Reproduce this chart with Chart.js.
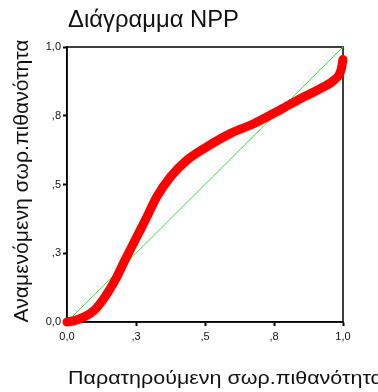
<!DOCTYPE html>
<html>
<head>
<meta charset="utf-8">
<script src="https://cdn.jsdelivr.net/npm/chart.js@4"></script>
<style>
  html, body { margin: 0; padding: 0; background: #fff; }
  #wrap { width: 378px; height: 392px; }
</style>
</head>
<body>
<div id="wrap"><canvas id="myChart"></canvas></div>
<script>
const chartTitle = 'Διάγραμμα NPP';
const xTitle = 'Παρατηρούμενη σωρ.πιθανότητα';
const yTitle = 'Αναμενόμενη σωρ.πιθανότητα';

// observed vs expected cumulative probability
const observed = [0, 0.03, 0.065, 0.10, 0.138, 0.175, 0.21, 0.247, 0.284, 0.326, 0.375, 0.435, 0.508, 0.593, 0.678, 0.775, 0.847, 0.92, 0.968, 0.993, 1.0];
const expected = [0, 0.006, 0.02, 0.044, 0.092, 0.153, 0.225, 0.298, 0.371, 0.456, 0.528, 0.589, 0.638, 0.686, 0.722, 0.773, 0.813, 0.85, 0.88, 0.916, 0.955];

const tickValues = [0, 0.25, 0.5, 0.75, 1];
const tickLabels = ['0,0', ',3', ',5', ',8', '1,0'];

const FONT = '"Liberation Sans", Arial, sans-serif';

function tickText(value) {
  const i = tickValues.findIndex(v => Math.abs(v - value) < 1e-6);
  return i >= 0 ? tickLabels[i] : '';
}

// draw text squeezed/stretched along its run to a given length
function drawFitted(ctx, text, size, length, align) {
  ctx.font = size + 'px ' + FONT;
  const w = ctx.measureText(text).width;
  ctx.textAlign = align;
  ctx.scale(length / w, 1);
  ctx.fillText(text, 0, 0);
}

const frameAndTitles = {
  id: 'frameAndTitles',
  beforeDatasetsDraw(chart) {
    const { ctx, chartArea: a } = chart;
    ctx.save();
    ctx.strokeStyle = '#000';
    ctx.lineWidth = 1.5;
    ctx.strokeRect(a.left, a.top, a.right - a.left, a.bottom - a.top);
    ctx.restore();
  },
  afterDraw(chart) {
    const { ctx, chartArea: a } = chart;
    ctx.fillStyle = '#111';
    ctx.textBaseline = 'alphabetic';

    ctx.save();
    ctx.translate(a.left + 1, 27);
    drawFitted(ctx, chartTitle, 23, 171, 'left');
    ctx.restore();

    ctx.save();
    ctx.translate(a.left + 1, 384);
    drawFitted(ctx, xTitle, 18, 315, 'left');
    ctx.restore();

    ctx.save();
    ctx.translate(28, 181);
    ctx.rotate(-Math.PI / 2);
    drawFitted(ctx, yTitle, 20, 283, 'center');
    ctx.restore();
  }
};

const axisCommon = {
  type: 'linear',
  min: 0,
  max: 1,
  afterBuildTicks(scale) {
    scale.ticks = tickValues.map(v => ({ value: v }));
  },
  ticks: {
    color: '#111',
    font: { family: FONT, size: 11 },
    callback: v => tickText(v)
  },
  grid: {
    drawOnChartArea: false,
    drawTicks: true,
    tickLength: 4,
    tickWidth: 2,
    tickColor: '#000'
  },
  border: { display: true, color: '#000', width: 1.5 }
};

new Chart(document.getElementById('myChart'), {
  type: 'scatter',
  data: {
    datasets: [
      {
        label: 'NPP',
        data: observed.map((x, i) => ({ x: x, y: expected[i] })),
        showLine: true,
        borderColor: '#ff0000',
        borderWidth: 9,
        borderCapStyle: 'round',
        borderJoinStyle: 'round',
        cubicInterpolationMode: 'monotone',
        pointRadius: 0,
        clip: false
      },
      {
        label: 'ref',
        data: [{ x: 0, y: 0 }, { x: 1, y: 1 }],
        showLine: true,
        borderColor: '#33e833',
        borderWidth: 1,
        pointRadius: 0
      }
    ]
  },
  options: {
    responsive: true,
    maintainAspectRatio: false,
    animation: false,
    layout: { padding: { top: 47, right: 35, left: 0, bottom: 0 } },
    plugins: {
      legend: { display: false },
      tooltip: { enabled: false },
      title: { display: false }
    },
    scales: {
      x: Object.assign({}, axisCommon, {
        position: 'bottom',
        ticks: Object.assign({}, axisCommon.ticks, { padding: 4, maxRotation: 0 }),
        afterFit(scale) { scale.height = 70; }
      }),
      y: Object.assign({}, axisCommon, {
        position: 'left',
        ticks: Object.assign({}, axisCommon.ticks, { padding: 2 }),
        afterFit(scale) { scale.width = 67; }
      })
    }
  },
  plugins: [frameAndTitles]
});
</script>
</body>
</html>
